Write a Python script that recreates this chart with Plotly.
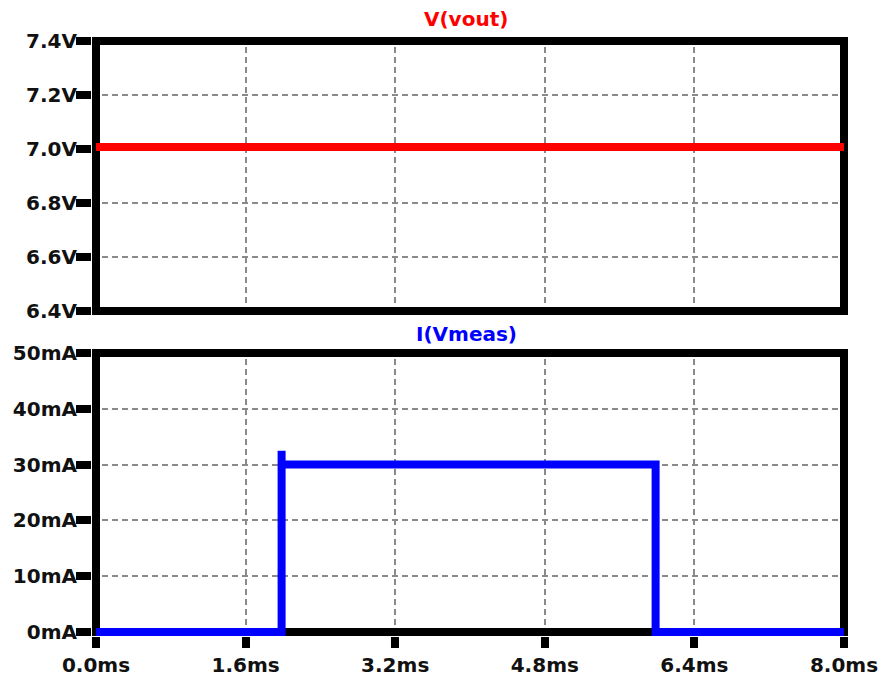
import plotly.graph_objects as go
from plotly.subplots import make_subplots

# ---- data ----
t_vout = [0.0, 8.0]                      # ms
v_vout = [7.007, 7.007]                  # V
t_imeas = [0.0, 1.985, 1.985, 1.985, 5.985, 5.985, 8.0]   # ms
i_imeas = [0.0, 0.0, 32.5, 30.0, 30.0, 0.0, 0.0]          # mA

x_ticks = [0.0, 1.6, 3.2, 4.8, 6.4, 8.0]
x_labels = ["0.0ms", "1.6ms", "3.2ms", "4.8ms", "6.4ms", "8.0ms"]
v_ticks = [6.4, 6.6, 6.8, 7.0, 7.2, 7.4]
v_labels = ["6.4V", "6.6V", "6.8V", "7.0V", "7.2V", "7.4V"]
i_ticks = [0, 10, 20, 30, 40, 50]
i_labels = ["0mA", "10mA", "20mA", "30mA", "40mA", "50mA"]

# ---- geometry (pixels) ----
W, H = 890, 677
FX0, FX1 = 96, 844          # frame centers: x=0ms, x=8ms
TOP_Y1, TOP_Y0 = 41, 311    # frame centers: 7.4V, 6.4V
BOT_Y1, BOT_Y0 = 353, 632   # frame centers: 50mA, 0mA
PAD = 4                     # half frame width
FW = 8

L = FX0 - PAD
R = W - (FX1 + PAD)
T = TOP_Y1 - PAD
B = H - (BOT_Y0 + PAD)
ph = H - T - B

xs = 8.0 / (FX1 - FX0)
x_range = [0.0 - PAD * xs, 8.0 + PAD * xs]
vs = (7.4 - 6.4) / (TOP_Y0 - TOP_Y1)
v_range = [6.4 - PAD * vs, 7.4 + PAD * vs]
is_ = 50.0 / (BOT_Y0 - BOT_Y1)
i_range = [0 - PAD * is_, 50 + PAD * is_]

top_dom = [1 - (TOP_Y0 + PAD - T) / ph, 1.0]
bot_dom = [0.0, (H - B - (BOT_Y1 - PAD)) / ph]

fig = make_subplots(rows=2, cols=1)

fig.add_trace(go.Scatter(x=t_vout, y=v_vout, mode="lines",
                         line=dict(color="#ff0000", width=8),
                         showlegend=False), row=1, col=1)
fig.add_trace(go.Scatter(x=t_imeas, y=i_imeas, mode="lines",
                         line=dict(color="#0000ff", width=8),
                         showlegend=False), row=2, col=1)

tickfont = dict(family="DejaVu Sans", size=20, color="#111111", weight="bold")
grid = dict(showgrid=True, gridcolor="#8a8a8a", gridwidth=1.5, griddash="6px,4px",
            zeroline=False, showline=False, automargin=False)

fig.update_xaxes(range=x_range, domain=[0, 1], tickvals=x_ticks, ticktext=x_labels,
                 ticks="", showticklabels=False, **grid, row=1, col=1)
fig.update_xaxes(range=x_range, domain=[0, 1], tickvals=x_ticks, ticktext=x_labels,
                 ticks="outside", ticklen=11, tickwidth=FW, tickcolor="black",
                 tickfont=tickfont, **grid, row=2, col=1)
fig.update_yaxes(range=v_range, domain=top_dom, tickvals=v_ticks, ticktext=v_labels,
                 ticks="outside", ticklen=15, tickwidth=FW, tickcolor="black",
                 tickfont=tickfont, ticklabelstandoff=-5, **grid, row=1, col=1)
fig.update_yaxes(range=i_range, domain=bot_dom, tickvals=i_ticks, ticktext=i_labels,
                 ticks="outside", ticklen=15, tickwidth=FW, tickcolor="black",
                 tickfont=tickfont, ticklabelstandoff=-5, **grid, row=2, col=1)

# frames
fig.add_shape(type="rect", xref="x", yref="y", x0=0, x1=8, y0=6.4, y1=7.4,
              line=dict(color="black", width=FW), layer="between")
fig.add_shape(type="rect", xref="x2", yref="y2", x0=0, x1=8, y0=0, y1=50,
              line=dict(color="black", width=FW), layer="between")

def px_to_paper_x(px):
    return (px - L) / (W - L - R)

def px_to_paper_y(py):
    return (H - B - py) / ph

fig.add_annotation(text="V(vout)", x=px_to_paper_x(466), y=px_to_paper_y(19),
                   xref="paper", yref="paper", showarrow=False,
                   xanchor="center", yanchor="middle",
                   font=dict(family="DejaVu Sans", size=20, color="#ff0000", weight="bold"))
fig.add_annotation(text="I(Vmeas)", x=px_to_paper_x(466), y=px_to_paper_y(334),
                   xref="paper", yref="paper", showarrow=False,
                   xanchor="center", yanchor="middle",
                   font=dict(family="DejaVu Sans", size=20, color="#0000ff", weight="bold"))

fig.update_layout(width=W, height=H, autosize=False,
                  margin=dict(l=L, r=R, t=T, b=B, pad=0, autoexpand=False),
                  paper_bgcolor="white", plot_bgcolor="white",
                  showlegend=False)

fig.write_html("out.html", config={"displayModeBar": False, "responsive": False},
               post_script="document.body.style.margin='0';")
